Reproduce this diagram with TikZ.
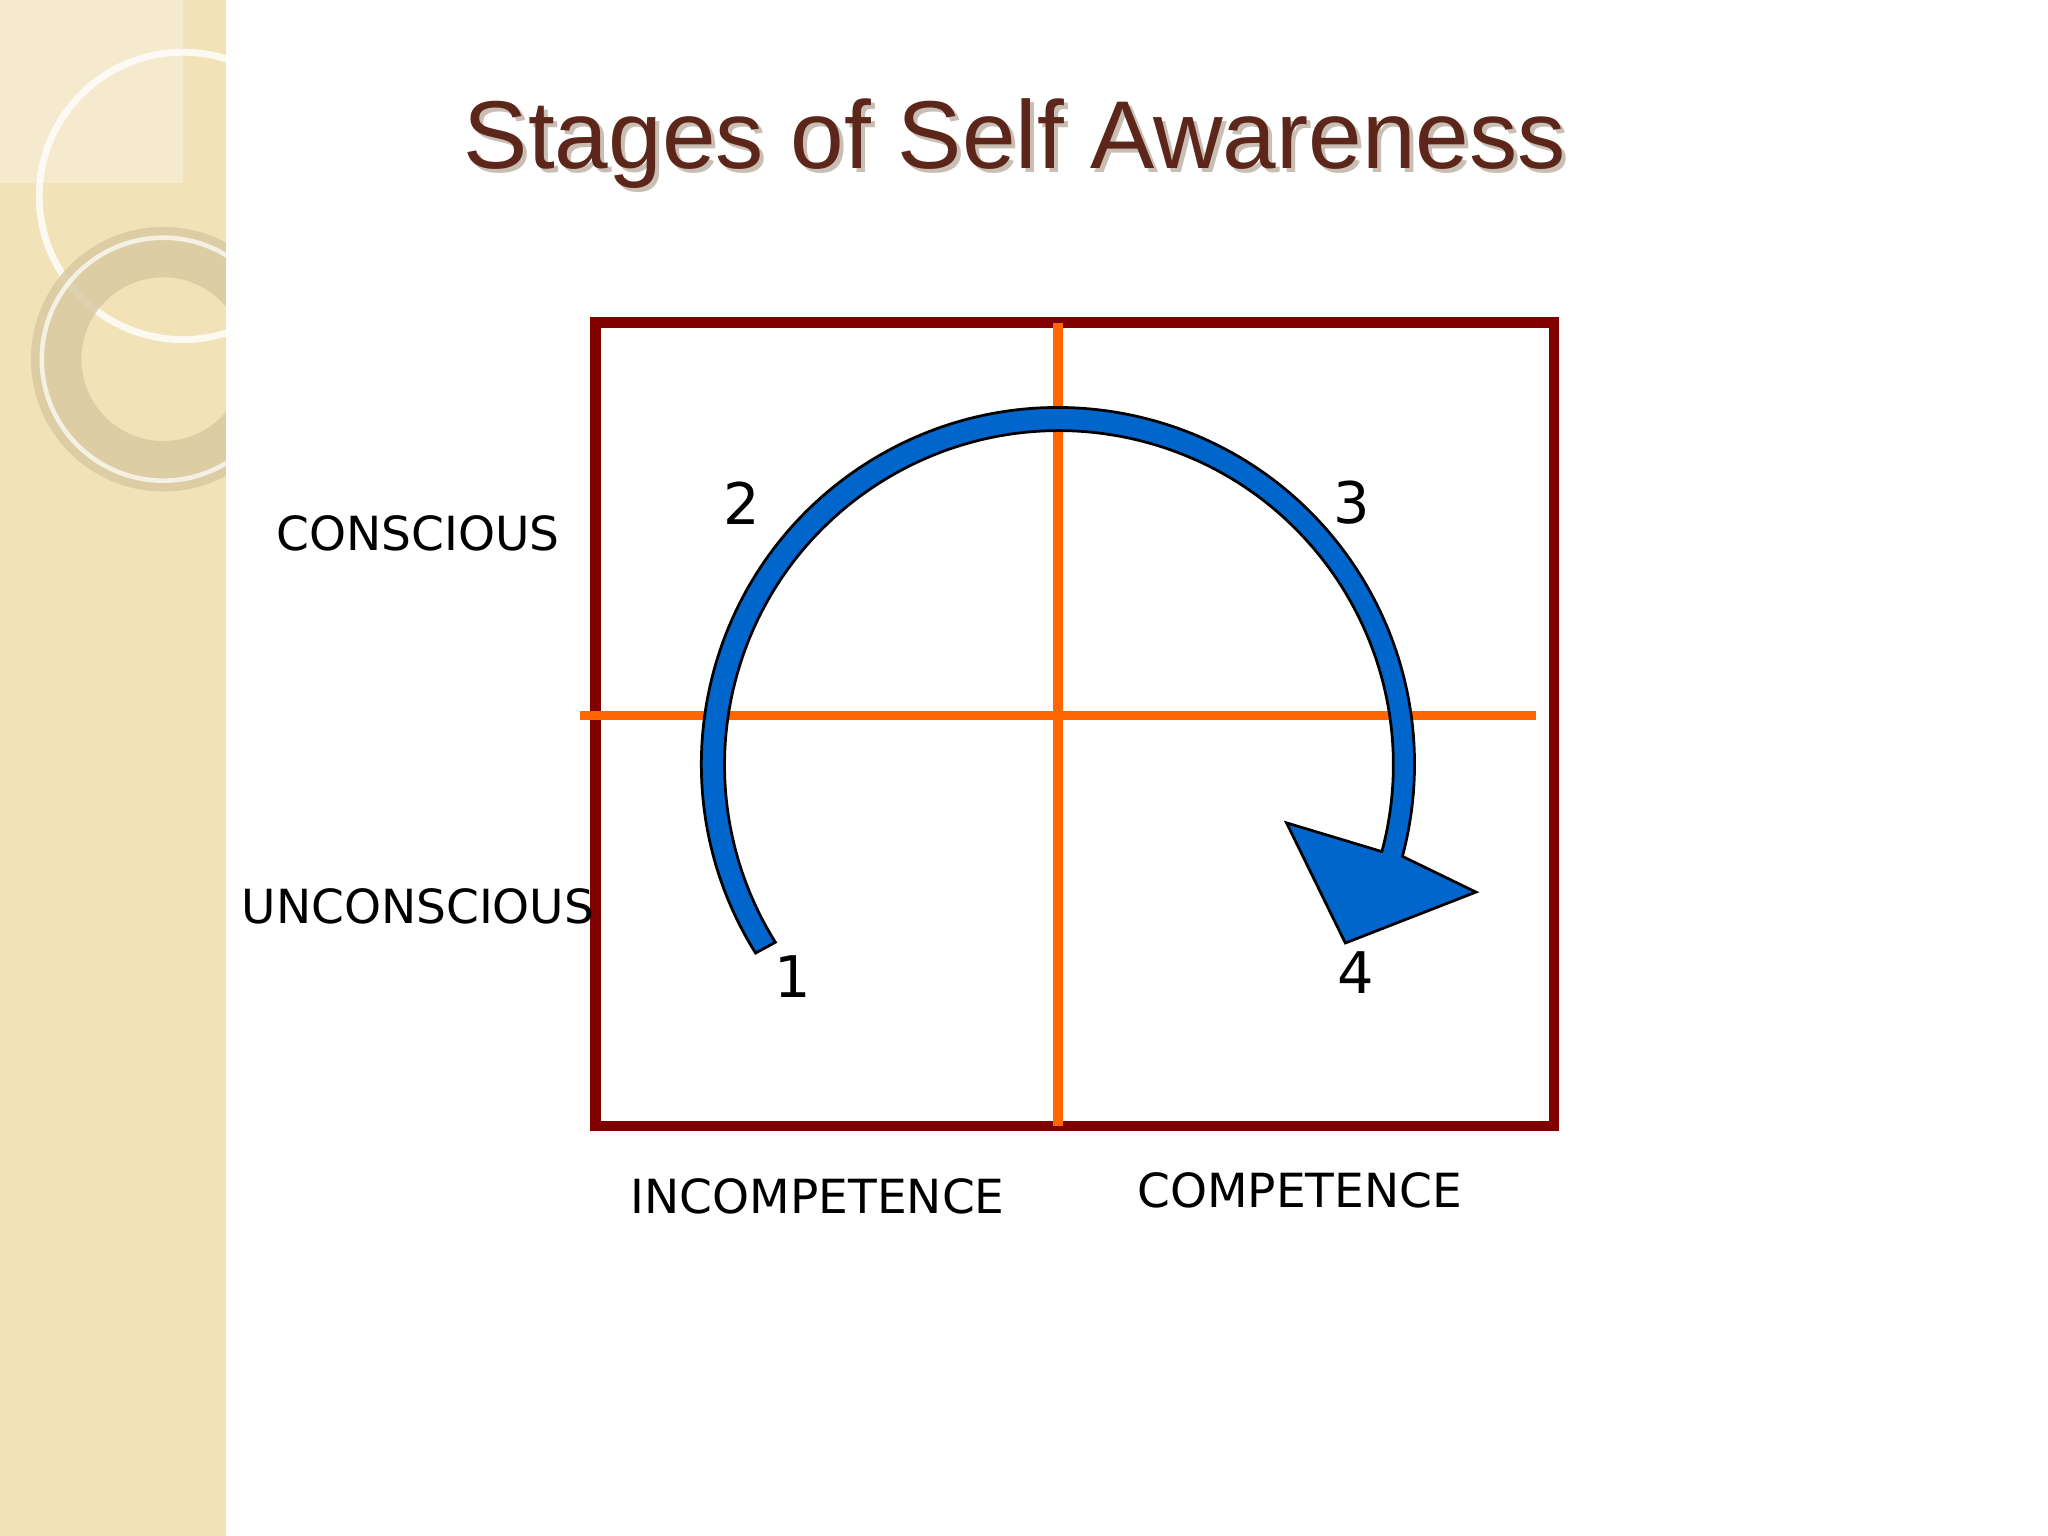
\documentclass[tikz,border=0pt]{standalone}
\usepackage{fontspec}
\setmainfont{Liberation Sans}
\newfontfamily\lbl{DejaVu Sans}
\definecolor{panel}{RGB}{242,226,184}
\definecolor{ring}{RGB}{215,200,160}
\definecolor{shadowc}{RGB}{200,190,180}
\definecolor{titlec}{RGB}{92,38,26}
\definecolor{boxc}{RGB}{128,0,0}
\definecolor{orangec}{RGB}{255,102,0}
\definecolor{bluec}{RGB}{0,102,204}
\begin{document}
\begin{tikzpicture}[x=0.02cm,y=0.02cm,
  lab/.style={font=\lbl\fontsize{20.5}{22}\selectfont},
  num/.style={font=\lbl\fontsize{25}{28}\selectfont}]
\useasboundingbox (0,0) rectangle (1568,-1176);
\fill[white] (0,0) rectangle (1568,-1176);
% side panel
\fill[panel] (0,0) rectangle (173,-1176);
\begin{scope}
\clip (0,0) rectangle (173,-1176);
\fill[white,opacity=0.3] (0,0) rectangle (140,-140);
\draw[white,opacity=0.8,line width=3] (140,-150) circle (110);
\draw[ring,line width=22,opacity=0.8] (125,-275) circle (82);
\draw[white,opacity=0.7,line width=2] (125,-275) circle (93);
\end{scope}
% title
\node[text=shadowc,font=\fontsize{42}{46}\selectfont] at (780,-113) {Stages of Self Awareness};
\node (title) [text=titlec,font=\fontsize{42}{46}\selectfont] at (777,-110) {Stages of Self Awareness};
% box
\draw[boxc,line width=4.5] (456,-247) rectangle (1190,-862);
\draw[orangec,line width=4] (810,-247) -- (810,-862);
\draw[orangec,line width=4] (444,-548) -- (1176,-548);
% arrow
\filldraw[fill=bluec,draw=black,line width=1.2]
  (810,-585) ++(212:273) arc[start angle=212,end angle=-15,radius=273]
  -- (1130,-683) -- (1030,-722) -- (985,-630) -- (1058,-652)
  arc[start angle=-15,end angle=212,radius=256] -- cycle;
% labels
\node[lab] (c) at (320,-408) {CONSCIOUS};
\node[lab] (u) at (320,-694) {UNCONSCIOUS};
\node[lab] (i) at (626,-916) {INCOMPETENCE};
\node[lab] (cp) at (995,-911) {COMPETENCE};
\node[num] (n2) at (568,-385) {2};
\node[num] (n3) at (1035,-385) {3};
\node[num] (n1) at (607,-748) {1};
\node[num] (n4) at (1038,-745) {4};
\end{tikzpicture}
\end{document}
